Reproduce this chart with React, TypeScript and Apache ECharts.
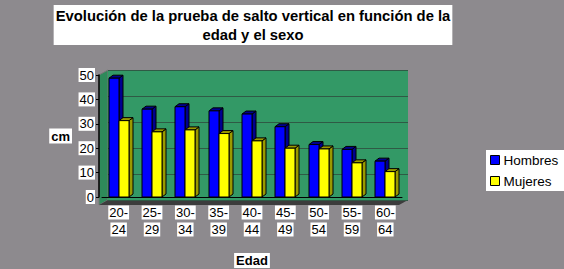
import React, { useEffect, useRef } from "react";
import * as echarts from "echarts";

const categories = ["20-24", "25-29", "30-34", "35-39", "40-44", "45-49", "50-54", "55-59", "60-64"];
const hombres = [48.7, 36, 37, 35.3, 34, 28.8, 21.5, 19.5, 14.7];
const mujeres = [31.3, 26.7, 27.5, 26, 23, 20, 19.7, 14, 10.4];
const yTicks = [0, 10, 20, 30, 40, 50];

const FONT = "'Liberation Sans', Arial, sans-serif";

function bar3d(offsetIndex: number, front: string, dark: string) {
  return (params: any, api: any) => {
    const cat = api.value(0);
    const v = api.value(1);
    const top = api.coord([cat, v]);
    const base = api.coord([cat, 0]);
    const w = 10;
    const dx = 4;
    const dy = -3;
    const x0 = Math.round(top[0]) + (offsetIndex === 0 ? -w : 0);
    const yt = top[1];
    const yb = base[1];
    const stroke = { stroke: "#000", lineWidth: 1 };
    return {
      type: "group",
      children: [
        {
          type: "polygon",
          shape: { points: [[x0 + w, yt], [x0 + w + dx, yt + dy], [x0 + w + dx, yb + dy], [x0 + w, yb]] },
          style: { fill: dark, ...stroke },
        },
        {
          type: "polygon",
          shape: { points: [[x0, yt], [x0 + dx, yt + dy], [x0 + w + dx, yt + dy], [x0 + w, yt]] },
          style: { fill: dark, ...stroke },
        },
        {
          type: "rect",
          shape: { x: x0, y: yt, width: w, height: yb - yt },
          style: { fill: front, ...stroke },
        },
      ],
    };
  };
}

export default function App() {
  const ref = useRef<HTMLDivElement>(null);
  useEffect(() => {
    if (!ref.current) return;
    const chart = echarts.init(ref.current, undefined, { renderer: "svg" });
    chart.setOption({
      animation: false,
      backgroundColor: "transparent",
      textStyle: { fontFamily: FONT },
      title: {
        text: "Evolución de la prueba de salto vertical en función de la\nedad y el sexo",
        left: 251,
        top: 5,
        textAlign: "center",
        backgroundColor: "#fff",
        padding: [1, 2, 1, 2],
        textStyle: { fontFamily: FONT, fontSize: 14.8, fontWeight: "bold", color: "#000", lineHeight: 19 },
      },
      legend: {
        orient: "vertical",
        left: 486,
        top: 150,
        backgroundColor: "#fff",
        padding: [3, 6, 3, 4],
        itemWidth: 9,
        itemHeight: 9,
        itemGap: 7,
        icon: "rect",
        itemStyle: { borderColor: "#000", borderWidth: 1 },
        textStyle: { fontFamily: FONT, fontSize: 13.5, color: "#000", padding: [0, 0, 0, -1] },
        data: ["Hombres", "Mujeres"],
      },
      grid: [
        { left: 102, top: 75, width: 300, height: 130, containLabel: false },
        { left: 108, top: 70, width: 300, height: 130, show: true, backgroundColor: "#339966", borderWidth: 0, z: 0 },
      ],
      graphic: [
        {
          type: "polygon",
          z: -1,
          shape: { points: [[99, 75], [108, 70], [108, 200], [99, 205]] },
          style: { fill: "#2e8a5a", stroke: "#777", lineWidth: 1 },
        },
        {
          type: "polygon",
          z: -1,
          shape: { points: [[99, 205], [399, 205], [408, 200], [108, 200]] },
          style: { fill: "#3c3c3c" },
        },
      ],
      xAxis: [
        {
          type: "category",
          gridIndex: 0,
          data: categories,
          axisLine: { show: true, lineStyle: { color: "#000", width: 1 } },
          axisTick: { show: false },
          axisLabel: {
            margin: 7,
            interval: 0,
            formatter: (v: string) => {
              const [a, b] = v.split("-");
              return `{t|${a}-}\n{t|${b}}`;
            },
            rich: {
              t: {
                fontFamily: FONT,
                fontSize: 13,
                color: "#000",
                backgroundColor: "#fff",
                height: 14,
                lineHeight: 17,
                padding: [0, 1, 0, 1],
              },
            },
          },
          name: "Edad",
          nameLocation: "middle",
          nameGap: 56,
          nameTextStyle: {
            fontFamily: FONT,
            fontSize: 13,
            fontWeight: "bold",
            color: "#000",
            backgroundColor: "#fff",
            padding: [1, 2, 1, 2],
          },
        },
        { type: "category", gridIndex: 1, data: categories, show: false },
      ],
      yAxis: [
        {
          type: "value",
          gridIndex: 0,
          min: 0,
          max: 50,
          interval: 10,
          offset: 3,
          axisLine: { show: true, lineStyle: { color: "#000", width: 1.5 } },
          axisTick: { show: true, length: 3, lineStyle: { color: "#000" } },
          splitLine: { show: false },
          axisLabel: {
            margin: 4,
            fontFamily: FONT,
            fontSize: 13,
            color: "#000",
            backgroundColor: "#fff",
            padding: [1, 1, 0, 1],
            formatter: (v: number) => (yTicks.includes(v) ? String(v) : ""),
          },
          name: "cm",
          nameLocation: "middle",
          nameRotate: 0,
          nameGap: 27,
          nameTextStyle: {
            fontFamily: FONT,
            fontSize: 13,
            fontWeight: "bold",
            color: "#000",
            backgroundColor: "#fff",
            padding: [1, 2, 1, 2],
          },
        },
        {
          type: "value",
          gridIndex: 1,
          min: 0,
          max: 50,
          interval: 10,
          axisLine: { show: false },
          axisTick: { show: false },
          axisLabel: { show: false },
          splitLine: { show: true, lineStyle: { color: "#2f5a45", width: 1 } },
        },
      ],
      series: [
        {
          name: "Hombres",
          type: "custom",
          xAxisIndex: 0,
          yAxisIndex: 0,
          z: 5,
          itemStyle: { color: "#0000ff" },
          renderItem: bar3d(0, "#0000ff", "#000090"),
          data: hombres.map((v, i) => [i, v]),
          encode: { x: 0, y: 1 },
        },
        {
          name: "Mujeres",
          type: "custom",
          xAxisIndex: 0,
          yAxisIndex: 0,
          z: 6,
          itemStyle: { color: "#ffff00" },
          renderItem: bar3d(1, "#ffff00", "#9a9a00"),
          data: mujeres.map((v, i) => [i, v]),
          encode: { x: 0, y: 1 },
        },
      ],
    });
    return () => chart.dispose();
  }, []);
  return (
    <div
      style={{
        position: "absolute",
        left: 0,
        top: 0,
        width: 564,
        height: 269,
        background: "#8d8a8e",
      }}
    >
      <div ref={ref} style={{ width: 564, height: 269 }} />
    </div>
  );
}
